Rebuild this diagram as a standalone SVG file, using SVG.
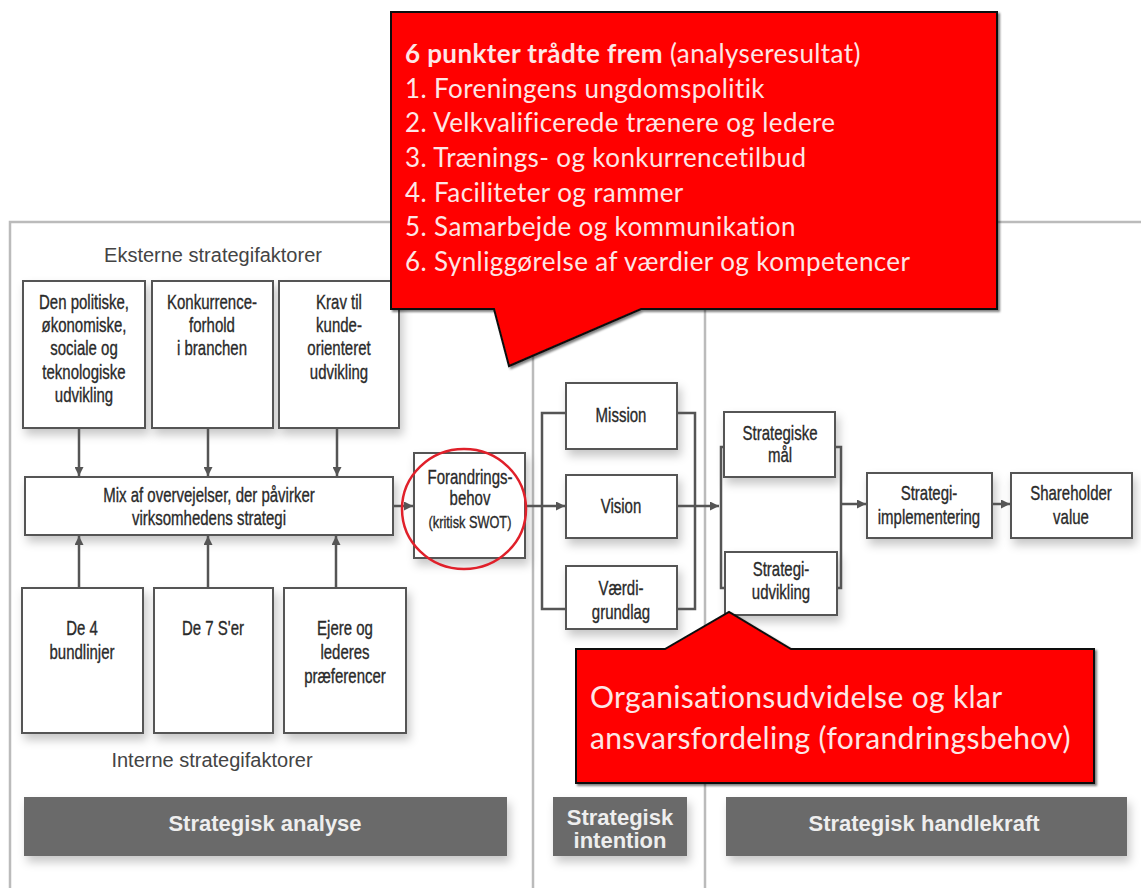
<svg xmlns="http://www.w3.org/2000/svg" width="1141" height="888" viewBox="0 0 1141 888">
<defs>
<filter id="sh" x="-20%" y="-20%" width="150%" height="160%">
<feDropShadow dx="3" dy="6" stdDeviation="5" flood-color="#000" flood-opacity="0.22"/>
</filter>
<filter id="csh" x="-5%" y="-5%" width="110%" height="115%">
<feDropShadow dx="2" dy="2" stdDeviation="1" flood-color="#000" flood-opacity="0.5"/>
</filter>
<marker id="ah" viewBox="0 0 10 10" refX="10" refY="5" markerWidth="9" markerHeight="9" markerUnits="userSpaceOnUse" orient="auto">
<path d="M0,0 L10,5 L0,10 Z" fill="#555"/>
</marker>
</defs>
<style>
.box{fill:#fff;stroke:#555;stroke-width:2;filter:url(#sh)}
.t{font-family:"Liberation Sans",Arial,sans-serif;font-size:20px;fill:#2a2a2a;text-anchor:middle;stroke:#2a2a2a;stroke-width:0.35}
.lbl{font-family:"Liberation Sans",Arial,sans-serif;font-size:20px;fill:#444;text-anchor:middle}
.bar{fill:#6b6b6b;filter:url(#sh)}
.bt{font-family:"Liberation Sans",Arial,sans-serif;font-weight:bold;font-size:22px;fill:#eee;text-anchor:middle}
.frame{fill:none;stroke:#bbb;stroke-width:2.5}
.con{fill:none;stroke:#555;stroke-width:2.5}
.call{fill:#ff0000;stroke:#111;stroke-width:2;filter:url(#csh)}
.ct{font-family:Lato,"Liberation Sans",sans-serif;font-size:26px;letter-spacing:0.4px;fill:#fde6e6}
.ct2{font-family:Lato,"Liberation Sans",sans-serif;font-size:30px;letter-spacing:0.35px;fill:#fde6e6}
</style>
<rect width="1141" height="888" fill="#fff"/>
<g id="frame">
<path class="frame" d="M10,888 V222 H1141"/>
<path class="frame" d="M533,222 V888 M705,222 V888"/>
</g>
<text class="lbl" x="213" y="262">Eksterne strategifaktorer</text>
<text class="lbl" x="212" y="767">Interne strategifaktorer</text>
<g id="ext1"><rect class="box" x="23" y="281" width="122" height="147"/>
<g transform="translate(84 0) scale(0.75 1)"><text class="t" x="0" y="309">Den politiske,</text><text class="t" x="0" y="332">økonomiske,</text><text class="t" x="0" y="355">sociale og</text><text class="t" x="0" y="379">teknologiske</text><text class="t" x="0" y="402">udvikling</text></g></g>
<g id="ext2"><rect class="box" x="152" y="281" width="121" height="147"/>
<g transform="translate(212 0) scale(0.75 1)"><text class="t" x="0" y="309">Konkurrence-</text><text class="t" x="0" y="332">forhold</text><text class="t" x="0" y="355">i branchen</text></g></g>
<g id="ext3"><rect class="box" x="279" y="281" width="120" height="147"/>
<g transform="translate(339 0) scale(0.75 1)"><text class="t" x="0" y="309">Krav til</text><text class="t" x="0" y="332">kunde-</text><text class="t" x="0" y="355">orienteret</text><text class="t" x="0" y="379">udvikling</text></g></g>
<g id="mix"><rect class="box" x="25" y="477" width="368" height="58"/>
<g transform="translate(209 0) scale(0.75 1)"><text class="t" x="0" y="502">Mix af overvejelser, der påvirker</text><text class="t" x="0" y="525">virksomhedens strategi</text></g></g>
<g id="int1"><rect class="box" x="22" y="588" width="121" height="145"/>
<g transform="translate(82 0) scale(0.75 1)"><text class="t" x="0" y="635">De 4</text><text class="t" x="0" y="659">bundlinjer</text></g></g>
<g id="int2"><rect class="box" x="154" y="588" width="119" height="145"/>
<g transform="translate(213 0) scale(0.75 1)"><text class="t" x="0" y="635">De 7 S'er</text></g></g>
<g id="int3"><rect class="box" x="284" y="588" width="122" height="145"/>
<g transform="translate(345 0) scale(0.75 1)"><text class="t" x="0" y="635">Ejere og</text><text class="t" x="0" y="659">lederes</text><text class="t" x="0" y="683">præferencer</text></g></g>
<g id="forandring"><rect class="box" x="414" y="453" width="111" height="105"/>
<g transform="translate(470 0) scale(0.75 1)"><text class="t" x="0" y="484">Forandrings-</text><text class="t" x="0" y="505">behov</text><text class="t" x="0" y="528" style="font-size:17px">(kritisk SWOT)</text></g></g>
<g id="mission"><rect class="box" x="566" y="383" width="111" height="66"/>
<g transform="translate(621 0) scale(0.75 1)"><text class="t" x="0" y="422">Mission</text></g></g>
<g id="vision"><rect class="box" x="566" y="475" width="111" height="63"/>
<g transform="translate(621 0) scale(0.75 1)"><text class="t" x="0" y="513">Vision</text></g></g>
<g id="vaerdi"><rect class="box" x="566" y="566" width="111" height="63"/>
<g transform="translate(621 0) scale(0.75 1)"><text class="t" x="0" y="595">Værdi-</text><text class="t" x="0" y="619">grundlag</text></g></g>
<g id="maal"><rect class="box" x="724" y="412" width="111" height="65"/>
<g transform="translate(780 0) scale(0.75 1)"><text class="t" x="0" y="440">Strategiske</text><text class="t" x="0" y="462">mål</text></g></g>
<g id="udvikling"><rect class="box" x="725" y="552" width="112" height="63"/>
<g transform="translate(781 0) scale(0.75 1)"><text class="t" x="0" y="576">Strategi-</text><text class="t" x="0" y="599">udvikling</text></g></g>
<g id="impl"><rect class="box" x="867" y="473" width="125" height="65"/>
<g transform="translate(929 0) scale(0.75 1)"><text class="t" x="0" y="500">Strategi-</text><text class="t" x="0" y="524">implementering</text></g></g>
<g id="share"><rect class="box" x="1011" y="473" width="121" height="65"/>
<g transform="translate(1071 0) scale(0.75 1)"><text class="t" x="0" y="500">Shareholder</text><text class="t" x="0" y="524">value</text></g></g>
<g id="bars">
<rect class="bar" x="24" y="797" width="483" height="59"/><text class="bt" x="265" y="831">Strategisk analyse</text>
<rect class="bar" x="553" y="797" width="134" height="59"/><text class="bt" x="620" y="825">Strategisk</text><text class="bt" x="620" y="848">intention</text>
<rect class="bar" x="726" y="797" width="401" height="59"/><text class="bt" x="924" y="831">Strategisk handlekraft</text>
</g>
<g id="connectors">
<path class="con" marker-end="url(#ah)" d="M79,428 V476"/>
<path class="con" marker-end="url(#ah)" d="M208,428 V476"/>
<path class="con" marker-end="url(#ah)" d="M337,428 V476"/>
<path class="con" marker-end="url(#ah)" d="M79,588 V536"/>
<path class="con" marker-end="url(#ah)" d="M208,588 V536"/>
<path class="con" marker-end="url(#ah)" d="M336,588 V536"/>
<path class="con" marker-end="url(#ah)" d="M393,506 H413"/>
<path class="con" marker-end="url(#ah)" d="M525,506 H565"/>
<path class="con" d="M566,413 H542 V609 H566"/>
<path class="con" d="M677,413 H695 V609 H677"/>
<path class="con" marker-end="url(#ah)" d="M677,506 H719"/>
<path class="con" d="M724,447 H721 V588 H725"/>
<path class="con" d="M835,447 H841 V588 H837"/>
<path class="con" marker-end="url(#ah)" d="M841,504 H866"/>
<path class="con" marker-end="url(#ah)" d="M992,504 H1010"/>
</g>
<ellipse id="highlight" cx="464" cy="509" rx="62" ry="60" fill="none" stroke="#e0202a" stroke-width="2.5"/>
<g id="callout1">
<path class="call" d="M391,12 H997 V309 H641 L509,366 L494,309 H391 Z"/>
<text class="ct" x="405" y="63"><tspan font-weight="bold">6 punkter trådte frem</tspan> (analyseresultat)</text>
<text class="ct" x="405" y="98">1. Foreningens ungdomspolitik</text>
<text class="ct" x="405" y="132">2. Velkvalificerede trænere og ledere</text>
<text class="ct" x="405" y="167">3. Trænings- og konkurrencetilbud</text>
<text class="ct" x="405" y="202">4. Faciliteter og rammer</text>
<text class="ct" x="405" y="236">5. Samarbejde og kommunikation</text>
<text class="ct" x="405" y="271">6. Synliggørelse af værdier og kompetencer</text>
</g>
<g id="callout2">
<path class="call" d="M576,649 H665 L729,612 L791,649 H1094 V783 H576 Z"/>
<text class="ct2" x="590" y="708">Organisationsudvidelse og klar</text>
<text class="ct2" x="590" y="749">ansvarsfordeling (forandringsbehov)</text>
</g>
</svg>
